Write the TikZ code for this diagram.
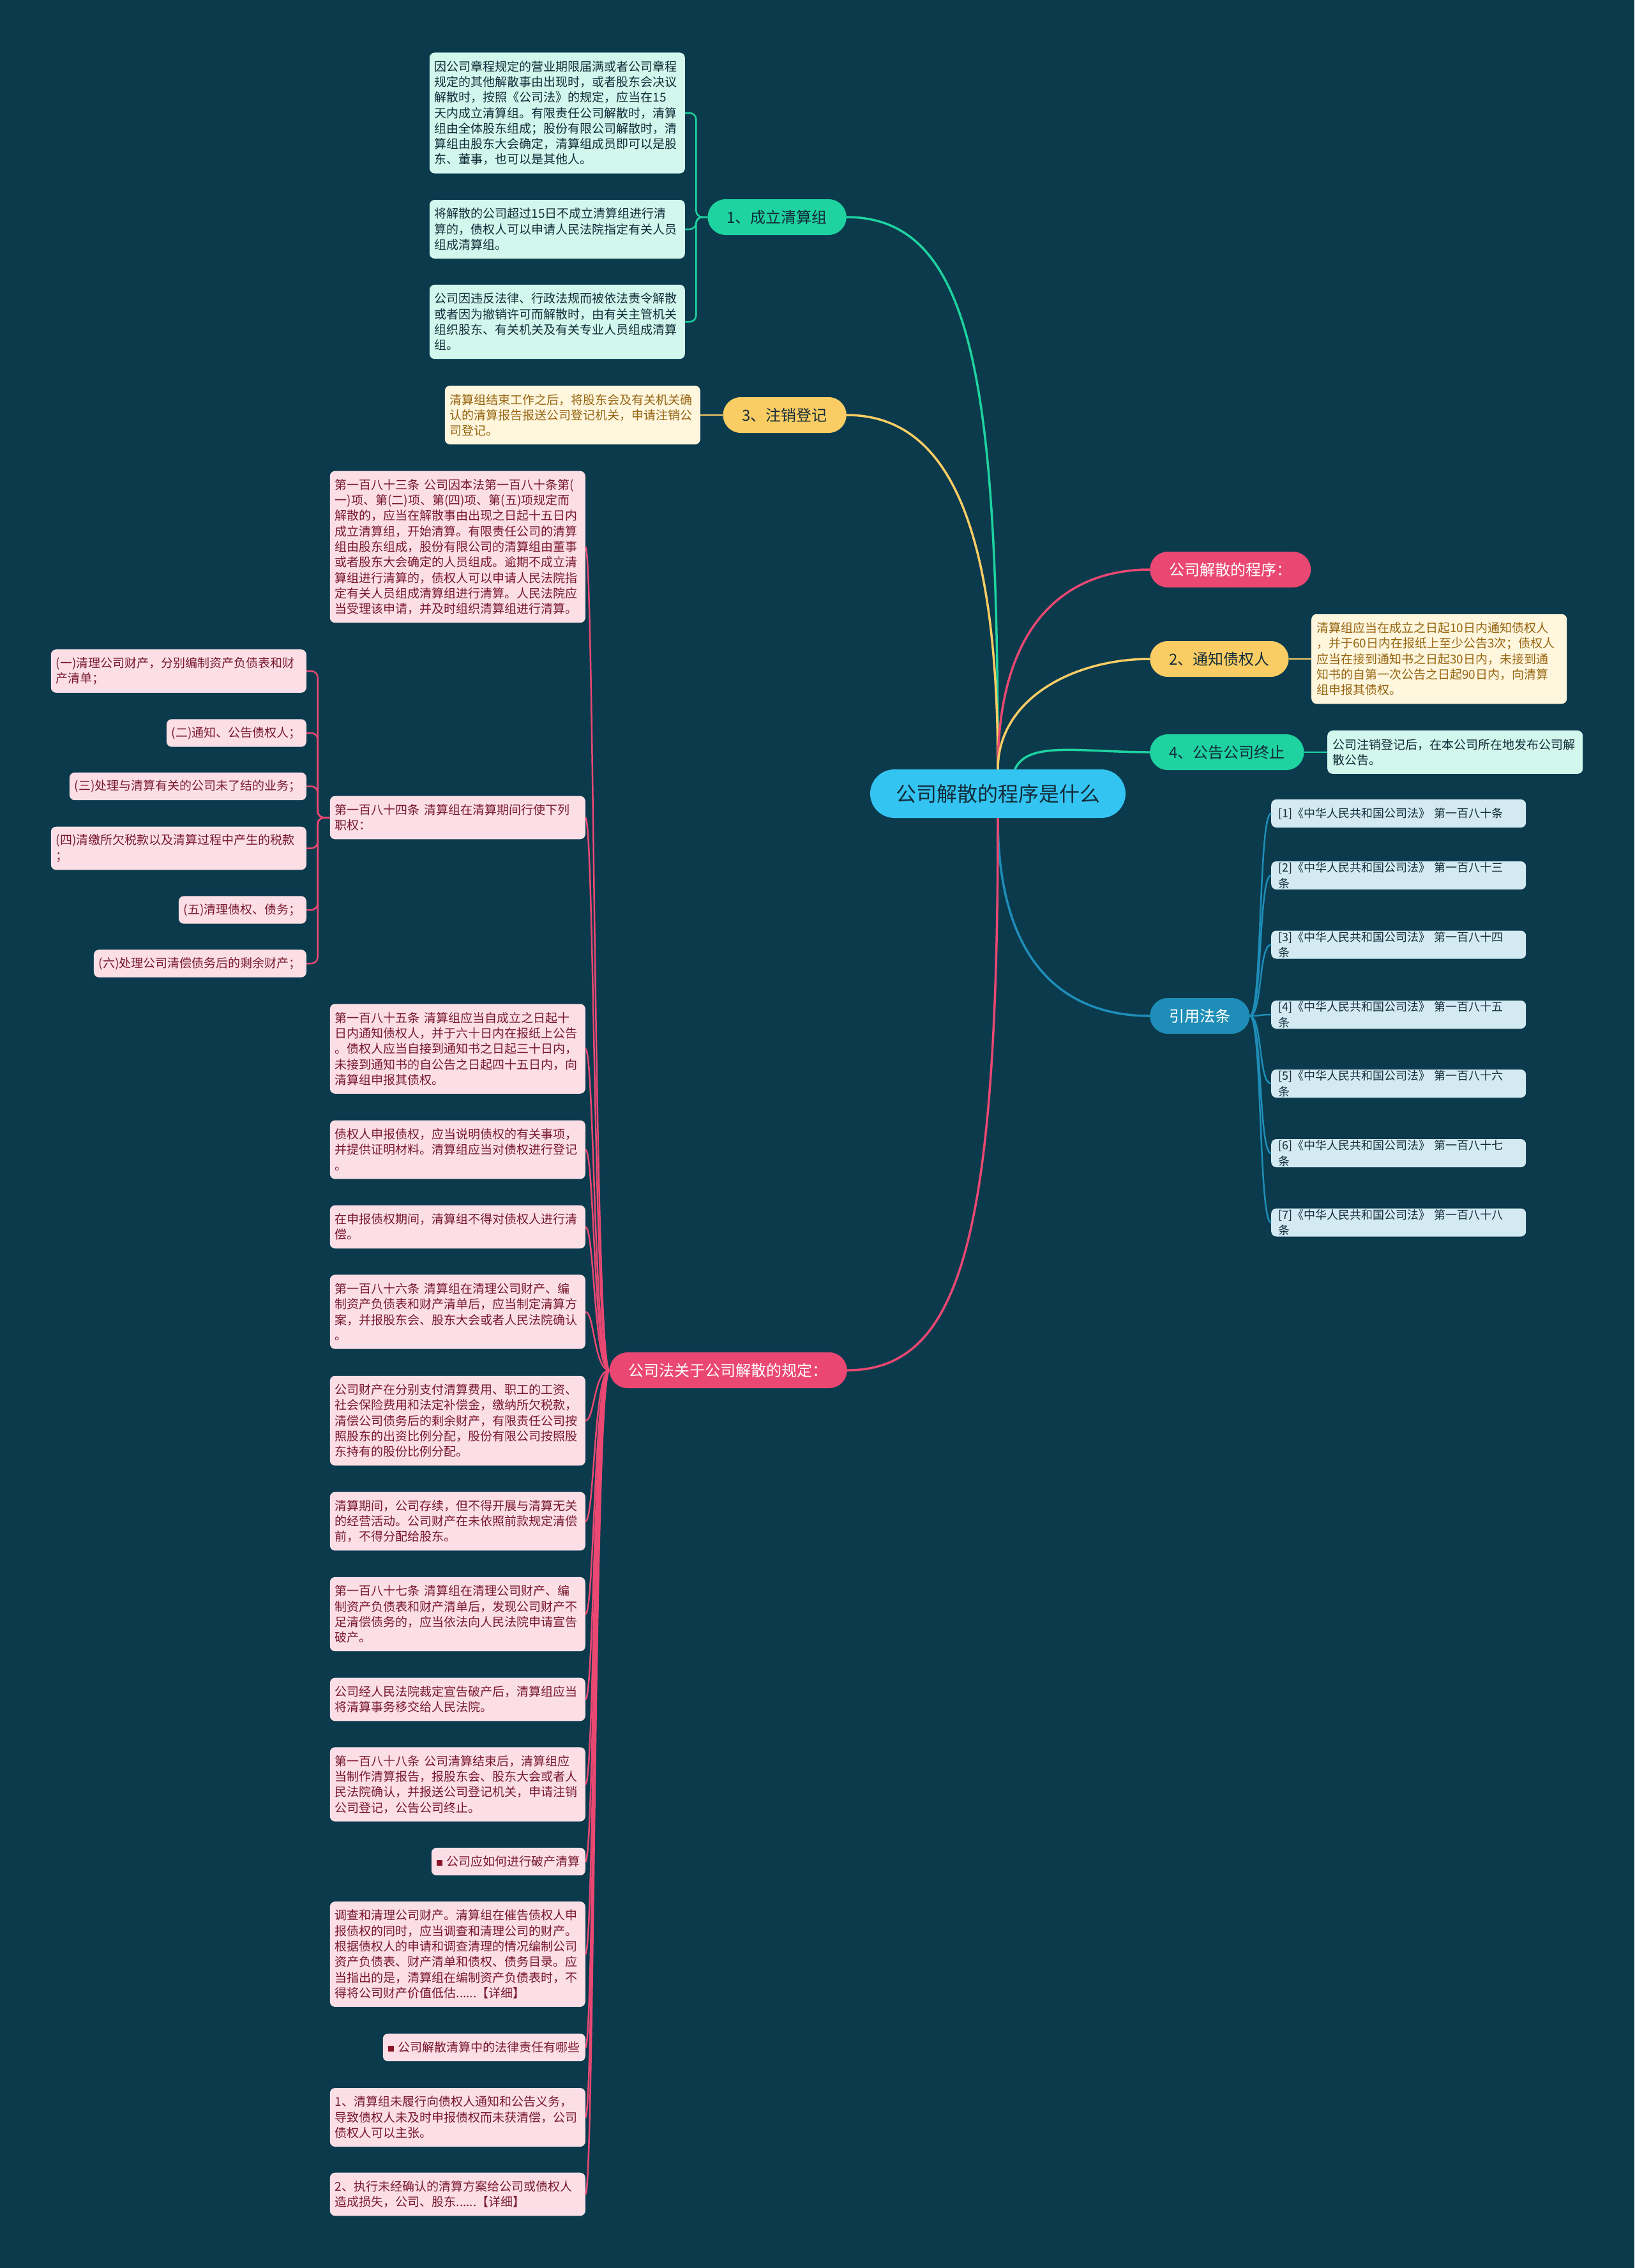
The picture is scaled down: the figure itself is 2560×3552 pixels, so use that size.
\documentclass[tikz,border=0pt]{standalone}
\usepackage{fontspec}
\setmainfont{Noto Sans CJK SC}

\begin{document}
\begin{tikzpicture}[x=1pt,y=-1pt]
        %%颜色
        \definecolor{bg_color}{RGB}{11,58,77}
        \definecolor{root_color}{RGB}{52,196,241}
        \definecolor{dark_text}{RGB}{18,44,58}
        \definecolor{green_color}{RGB}{30,211,160}
        \definecolor{yellow_color}{RGB}{250,205,100}
        \definecolor{pink_color}{RGB}{234,72,114}
        \definecolor{blue_color}{RGB}{30,142,184}
        \definecolor{green_fill}{RGB}{210,247,236}
        \definecolor{yellow_fill}{RGB}{255,246,222}
        \definecolor{yellow_text}{RGB}{150,100,15}
        \definecolor{pink_fill}{RGB}{252,223,230}
        \definecolor{pink_text}{RGB}{120,24,46}
        \definecolor{blue_fill}{RGB}{212,234,242}
        \definecolor{dot_color}{RGB}{140,20,40}

        %%样式
        \tikzset{root/.style = {fill=root_color, text=dark_text, rounded corners=38, inner xsep=40, minimum height=76, font=\fontsize{32}{36}\selectfont}}
        \tikzset{pill/.style = {rounded corners=28, inner xsep=30, minimum height=56, font=\fontsize{24}{28}\selectfont}}
        \tikzset{box/.style = {rounded corners=8, inner xsep=8, inner ysep=0, align=left, font=\fontsize{19}{24.3}\selectfont}}
        \tikzset{wide/.style = {text width=384}}
        \tikzset{lines/.style = {minimum height=24.3*#1+19}}
        \tikzset{greenbox/.style = {box, wide, fill=green_fill, text=dark_text}}
        \tikzset{yellowbox/.style = {box, wide, fill=yellow_fill, text=yellow_text}}
        \tikzset{pinkbox/.style = {box, fill=pink_fill, text=pink_text}}
        \tikzset{refbox/.style = {box, fill=blue_fill, text=dark_text, text width=377, inner xsep=11, font=\fontsize{18}{24.3}\selectfont}}
        \tikzset{link/.style = {line width=3.5pt}}
        \tikzset{sublink/.style = {line width=2.5pt, rounded corners=10}}

        \newcommand{\pinkx}{917}
        \newcommand{\dotmark}{\textcolor{dot_color}{\rule[1pt]{9pt}{9pt}}\hspace{7pt}}

        %%背景
        \fill[bg_color] (0,0) rectangle (2560,3552);

        %%中心与一级分支
        \node[root] (root) at (1563,1243) {公司解散的程序是什么};
        \node[pill, fill=green_color, text=dark_text, anchor=east] (b1) at (1326,340) {1、成立清算组};
        \node[pill, fill=yellow_color, text=dark_text, anchor=east] (b3) at (1326,650) {3、注销登记};
        \node[pill, fill=pink_color, text=white, anchor=west] (proc) at (1801,892) {公司解散的程序：};
        \node[pill, fill=yellow_color, text=dark_text, anchor=west] (b2) at (1801,1032) {2、通知债权人};
        \node[pill, fill=green_color, text=dark_text, anchor=west] (b4) at (1801,1178) {4、公告公司终止};
        \node[pill, fill=blue_color, text=white, anchor=west] (cite) at (1801,1591) {引用法条};
        \node[pill, fill=pink_color, text=white, anchor=east] (law) at (1327,2146) {公司法关于公司解散的规定：};

        \draw[link, green_color] (root.north) .. controls +(0,-600) and +(200,0) .. (b1.east);
        \draw[link, yellow_color] (root.north) .. controls +(0,-380) and +(160,0) .. (b3.east);
        \draw[link, pink_color] (root.north) .. controls +(0,-230) and +(-130,0) .. (proc.west);
        \draw[link, yellow_color] (root.north) .. controls +(0,-110) and +(-120,0) .. (b2.west);
        \draw[link, green_color] (root.55) .. controls +(20,-45) and +(-110,0) .. (b4.west);
        \draw[link, blue_color] (root.south) .. controls +(0,220) and +(-140,0) .. (cite.west);
        \draw[link, pink_color] (root.south) .. controls +(0,650) and +(180,0) .. (law.east);

        %%1、成立清算组
        \node[greenbox, lines=7, anchor=east] (tA) at (1073,177) {因公司章程规定的营业期限届满或者公司章程\\规定的其他解散事由出现时，或者股东会决议\\解散时，按照《公司法》的规定，应当在15\\天内成立清算组。有限责任公司解散时，清算\\组由全体股东组成；股份有限公司解散时，清\\算组由股东大会确定，清算组成员即可以是股\\东、董事，也可以是其他人。};
        \node[greenbox, lines=3, anchor=east] (tB) at (1073,359) {将解散的公司超过15日不成立清算组进行清\\算的，债权人可以申请人民法院指定有关人员\\组成清算组。};
        \node[greenbox, lines=4, anchor=east] (tC) at (1073,504) {公司因违反法律、行政法规而被依法责令解散\\或者因为撤销许可而解散时，由有关主管机关\\组织股东、有关机关及有关专业人员组成清算\\组。};
        \foreach \t in {tA,tB,tC}
            \draw[sublink, green_color] (b1.west) -- ++(-18,0) |- (\t.east);

        %%3、注销登记
        \node[yellowbox, lines=3, anchor=east] (t3) at (1097,650) {清算组结束工作之后，将股东会及有关机关确\\认的清算报告报送公司登记机关，申请注销公\\司登记。};
        \draw[sublink, yellow_color] (b3.west) -- (t3.east);

        %%2、通知债权人 & 4、公告公司终止
        \node[yellowbox, lines=5, anchor=west] (t2) at (2054,1032) {清算组应当在成立之日起10日内通知债权人\\，并于60日内在报纸上至少公告3次；债权人\\应当在接到通知书之日起30日内，未接到通\\知书的自第一次公告之日起90日内，向清算\\组申报其债权。};
        \draw[sublink, yellow_color] (b2.east) -- (t2.west);
        \node[greenbox, lines=2, anchor=west] (t4) at (2079,1178) {公司注销登记后，在本公司所在地发布公司解\\散公告。};
        \draw[sublink, green_color] (b4.east) -- (t4.west);

        %%引用法条
        \foreach \i/\y/\txt in {1/1274/第一百八十条, 2/1371/第一百八十三\\条, 3/1479.5/第一百八十四\\条, 4/1589/第一百八十五\\条, 5/1697/第一百八十六\\条, 6/1806/第一百八十七\\条, 7/1914.5/第一百八十八\\条}
        {
            \node[refbox, anchor=west, minimum height=44] (ref\i) at (1991,\y) {[\i]《中华人民共和国公司法》 \txt};
            \draw[line width=2.5pt, blue_color] (cite.east) .. controls +(20,0) and +(-20,0) .. (ref\i.west);
        }

        %%公司法关于公司解散的规定
        \node[pinkbox, wide, lines=9, anchor=east] (p183) at (\pinkx,856.5) {第一百八十三条 公司因本法第一百八十条第(\\一)项、第(二)项、第(四)项、第(五)项规定而\\解散的，应当在解散事由出现之日起十五日内\\成立清算组，开始清算。有限责任公司的清算\\组由股东组成，股份有限公司的清算组由董事\\或者股东大会确定的人员组成。逾期不成立清\\算组进行清算的，债权人可以申请人民法院指\\定有关人员组成清算组进行清算。人民法院应\\当受理该申请，并及时组织清算组进行清算。};
        \node[pinkbox, wide, lines=2, anchor=east] (p184) at (\pinkx,1280.5) {第一百八十四条 清算组在清算期间行使下列\\职权：};
        \node[pinkbox, wide, lines=5, anchor=east] (p185) at (\pinkx,1642.5) {第一百八十五条 清算组应当自成立之日起十\\日内通知债权人，并于六十日内在报纸上公告\\。债权人应当自接到通知书之日起三十日内，\\未接到通知书的自公告之日起四十五日内，向\\清算组申报其债权。};
        \node[pinkbox, wide, lines=3, anchor=east] (pshen) at (\pinkx,1800.5) {债权人申报债权，应当说明债权的有关事项，\\并提供证明材料。清算组应当对债权进行登记\\。};
        \node[pinkbox, wide, lines=2, anchor=east] (pqi) at (\pinkx,1921.5) {在申报债权期间，清算组不得对债权人进行清\\偿。};
        \node[pinkbox, wide, lines=4, anchor=east] (p186) at (\pinkx,2054.5) {第一百八十六条 清算组在清理公司财产、编\\制资产负债表和财产清单后，应当制定清算方\\案，并报股东会、股东大会或者人民法院确认\\。};
        \node[pinkbox, wide, lines=5, anchor=east] (pcai) at (\pinkx,2225) {公司财产在分别支付清算费用、职工的工资、\\社会保险费用和法定补偿金，缴纳所欠税款，\\清偿公司债务后的剩余财产，有限责任公司按\\照股东的出资比例分配，股份有限公司按照股\\东持有的股份比例分配。};
        \node[pinkbox, wide, lines=3, anchor=east] (pcun) at (\pinkx,2382.5) {清算期间，公司存续，但不得开展与清算无关\\的经营活动。公司财产在未依照前款规定清偿\\前，不得分配给股东。};
        \node[pinkbox, wide, lines=4, anchor=east] (p187) at (\pinkx,2528) {第一百八十七条 清算组在清理公司财产、编\\制资产负债表和财产清单后，发现公司财产不\\足清偿债务的，应当依法向人民法院申请宣告\\破产。};
        \node[pinkbox, wide, lines=2, anchor=east] (ppo) at (\pinkx,2661.5) {公司经人民法院裁定宣告破产后，清算组应当\\将清算事务移交给人民法院。};
        \node[pinkbox, wide, lines=4, anchor=east] (p188) at (\pinkx,2794.5) {第一百八十八条 公司清算结束后，清算组应\\当制作清算报告，报股东会、股东大会或者人\\民法院确认，并报送公司登记机关，申请注销\\公司登记，公告公司终止。};
        \node[pinkbox, lines=1, anchor=east] (pq1) at (\pinkx,2915.5) {\dotmark 公司应如何进行破产清算};
        \node[pinkbox, wide, lines=6, anchor=east] (pdiao) at (\pinkx,3060.5) {调查和清理公司财产。清算组在催告债权人申\\报债权的同时，应当调查和清理公司的财产。\\根据债权人的申请和调查清理的情况编制公司\\资产负债表、财产清单和债权、债务目录。应\\当指出的是，清算组在编制资产负债表时，不\\得将公司财产价值低估......【详细】};
        \node[pinkbox, lines=1, anchor=east] (pq2) at (\pinkx,3206.5) {\dotmark 公司解散清算中的法律责任有哪些};
        \node[pinkbox, wide, lines=3, anchor=east] (pl1) at (\pinkx,3316) {1、清算组未履行向债权人通知和公告义务，\\导致债权人未及时申报债权而未获清偿，公司\\债权人可以主张。};
        \node[pinkbox, wide, lines=2, anchor=east] (pl2) at (\pinkx,3436.5) {2、执行未经确认的清算方案给公司或债权人\\造成损失，公司、股东......【详细】};
        \foreach \p in {p183,p184,p185,pshen,pqi,p186,pcai,pcun,p187,ppo,p188,pq1,pdiao,pq2,pl1,pl2}
            \draw[line width=2.5pt, pink_color] (law.west) .. controls +(-24,0) and +(14,0) .. (\p.east);

        %%第一百八十四条的职权
        \node[pinkbox, wide, lines=2, anchor=east] (c1) at (480,1051) {(一)清理公司财产，分别编制资产负债表和财\\产清单；};
        \node[pinkbox, lines=1, anchor=east] (c2) at (480,1148) {(二)通知、公告债权人；};
        \node[pinkbox, lines=1, anchor=east] (c3) at (480,1231.5) {(三)处理与清算有关的公司未了结的业务；};
        \node[pinkbox, wide, lines=2, anchor=east] (c4) at (480,1328.5) {(四)清缴所欠税款以及清算过程中产生的税款\\；};
        \node[pinkbox, lines=1, anchor=east] (c5) at (480,1425) {(五)清理债权、债务；};
        \node[pinkbox, lines=1, anchor=east] (c6) at (480,1509) {(六)处理公司清偿债务后的剩余财产；};
        \foreach \c in {c1,c2,c3,c4,c5,c6}
            \draw[sublink, pink_color] (p184.west) -- ++(-19,0) |- (\c.east);

\end{tikzpicture}
\end{document}
